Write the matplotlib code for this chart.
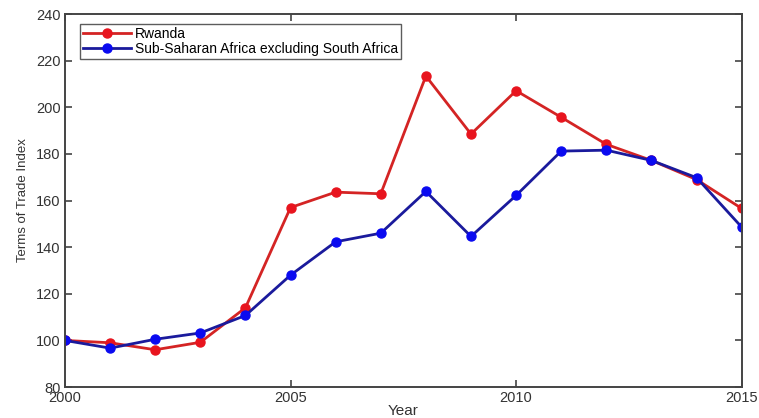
import matplotlib
matplotlib.use('Agg')
import matplotlib.pyplot as plt

# terms of trade index, 2000 = 100
years = [2000, 2001, 2002, 2003, 2004, 2005, 2006, 2007,
         2008, 2009, 2010, 2011, 2012, 2013, 2014, 2015]
rwanda = [100, 99, 96, 99.2, 114, 157, 163.6, 162.9,
          213.4, 188.5, 207.1, 195.7, 184.1, 177.2, 169, 156.6]
ssa = [100, 96.7, 100.5, 103.2, 110.7, 128, 142.3, 146,
       163.9, 144.6, 162.2, 181.2, 181.6, 177.2, 169.8, 148.6]

x_ticks = [2000, 2005, 2010, 2015]
y_ticks = [80, 100, 120, 140, 160, 180, 200, 220, 240]

plt.rcParams['font.family'] = ['Liberation Sans', 'DejaVu Sans']

fig = plt.figure(figsize=(7.59, 4.18), dpi=100)
ax = fig.add_axes([0.0856, 0.074, 0.8916, 0.8925])

ax.plot(years, rwanda, color='#d42424', linewidth=2.0, marker='o',
        markersize=6.5, markerfacecolor='#e8141e', markeredgecolor='#e8141e',
        label='Rwanda')
ax.plot(years, ssa, color='#1a1a9c', linewidth=2.0, marker='o',
        markersize=6.5, markerfacecolor='#0a0af0', markeredgecolor='#0a0af0',
        label='Sub-Saharan Africa excluding South Africa')

ax.set_xlim(2000, 2015)
ax.set_ylim(80, 240)
ax.set_xticks(x_ticks)
ax.set_yticks(y_ticks)
ax.tick_params(direction='in', length=5, width=1.2, colors='#444444',
               labelsize=10.5, top=True, right=True, pad=3)
for lab in ax.get_xticklabels() + ax.get_yticklabels():
    lab.set_color('#333333')
for sp in ax.spines.values():
    sp.set_color('#444444')
    sp.set_linewidth(1.4)

ax.set_xlabel('Year', fontsize=11, color='#333333', labelpad=-1)
ax.set_ylabel('Terms of Trade Index', fontsize=9.5, color='#333333',
              labelpad=5, fontstretch='condensed')

leg = ax.legend(loc='upper left', bbox_to_anchor=(0.022, 0.972), fontsize=10,
                frameon=True, fancybox=False, borderpad=0.2, labelspacing=0.05,
                handlelength=3.5, handletextpad=0.25, borderaxespad=0)
leg.get_frame().set_edgecolor('#333333')
leg.get_frame().set_linewidth(1.0)

fig.savefig('out.png', dpi=100)
